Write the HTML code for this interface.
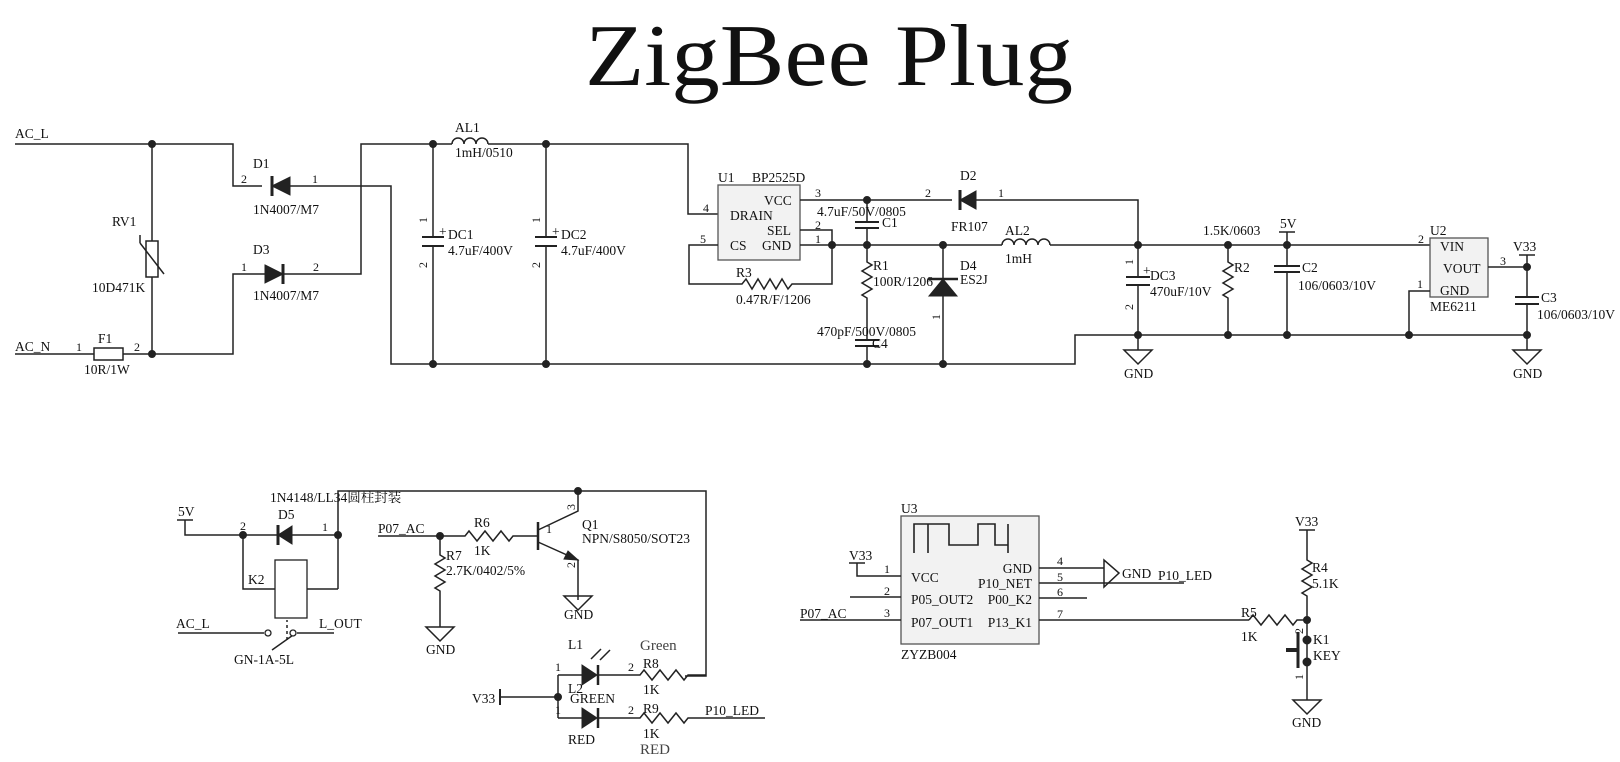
<!DOCTYPE html>
<html><head><meta charset="utf-8"><style>
html,body{margin:0;padding:0;background:#fff;}
svg{display:block;}
text{font-family:"Liberation Serif","Noto Serif CJK SC",serif;fill:#111;font-size:13.5px;}
.s{font-size:12px;}
.w{stroke:#222;stroke-width:1.5;fill:none;}
.f{fill:#222;stroke:#222;}
.box{fill:#f2f2f2;stroke:#555;stroke-width:1.3;}
</style></head><body>
<svg width="1620" height="762" viewBox="0 0 1620 762" xmlns="http://www.w3.org/2000/svg">
<text x="829" y="85" text-anchor="middle" textLength="488" lengthAdjust="spacingAndGlyphs" style="font-size:88px">ZigBee Plug</text>

<!-- ===== TOP LEFT ===== -->
<text x="15" y="138">AC_L</text>
<path class="w" d="M15 144H233V186H262"/>
<path class="w" d="M280 186H391V364H1075V335H1527"/>
<polygon class="f" points="272,186 290,177 290,195"/><path class="w" d="M272 176V196" style="stroke-width:3"/>
<text x="253" y="168">D1</text><text class="s" x="241" y="183">2</text><text class="s" x="312" y="183">1</text>
<text x="253" y="214">1N4007/M7</text>
<path class="w" d="M15 354H233V274H265"/>
<polygon class="f" points="265,265 283,274 265,283"/><path class="w" d="M283 264V284" style="stroke-width:3"/>
<path class="w" d="M283 274H361V144H434"/>
<text x="253" y="254">D3</text><text class="s" x="241" y="271">1</text><text class="s" x="313" y="271">2</text>
<text x="253" y="300">1N4007/M7</text>
<!-- RV1 -->
<path class="w" d="M152 144V354"/>
<rect x="146" y="241" width="12" height="36" fill="#fff" stroke="#222" stroke-width="1.5"/>
<path class="w" d="M140 243V235M140 243L164 274"/>
<circle cx="152" cy="144" r="3.5" class="f"/><circle cx="152" cy="354" r="3.5" class="f"/>
<text x="112" y="226">RV1</text><text x="92" y="292">10D471K</text>
<!-- F1 -->
<text x="15" y="351">AC_N</text><text class="s" x="76" y="351">1</text><text class="s" x="134" y="351">2</text>
<text x="98" y="343">F1</text><text x="84" y="374">10R/1W</text>
<rect x="94" y="348" width="29" height="12" fill="#fff" stroke="#222" stroke-width="1.5"/>
<!-- AL1 -->
<path class="w" d="M434 144H452"/>
<path class="w" d="M452 144a6 6 0 0 1 12 0a6 6 0 0 1 12 0a6 6 0 0 1 12 0"/>
<path class="w" d="M488 144H688V214H718"/>
<text x="455" y="132">AL1</text><text x="455" y="157">1mH/0510</text>
<circle cx="433" cy="144" r="3.5" class="f"/><circle cx="546" cy="144" r="3.5" class="f"/>
<!-- DC1 DC2 -->
<g>
<path class="w" d="M433 144V237M433 246V364"/><path class="w" d="M422 237H444M422 246H444" style="stroke-width:2"/>
<circle cx="433" cy="364" r="3.5" class="f"/>
<text x="439" y="236">+</text><text x="448" y="239">DC1</text><text x="448" y="255">4.7uF/400V</text>
<text class="s" x="427" y="223" transform="rotate(-90 427 223)">1</text>
<text class="s" x="427" y="268" transform="rotate(-90 427 268)">2</text>
</g>
<g>
<path class="w" d="M546 144V237M546 246V364"/><path class="w" d="M535 237H557M535 246H557" style="stroke-width:2"/>
<circle cx="546" cy="364" r="3.5" class="f"/>
<text x="552" y="236">+</text><text x="561" y="239">DC2</text><text x="561" y="255">4.7uF/400V</text>
<text class="s" x="540" y="223" transform="rotate(-90 540 223)">1</text>
<text class="s" x="540" y="268" transform="rotate(-90 540 268)">2</text>
</g>
<!-- U1 -->
<rect x="718" y="185" width="82" height="75" class="box"/>
<text x="718" y="182">U1</text><text x="752" y="182">BP2525D</text>
<text x="764" y="205">VCC</text><text x="730" y="220">DRAIN</text><text x="767" y="235">SEL</text>
<text x="730" y="250">CS</text><text x="762" y="250">GND</text>
<text class="s" x="703" y="212">4</text><text class="s" x="815" y="197">3</text><text class="s" x="815" y="229">2</text>
<text class="s" x="700" y="243">5</text><text class="s" x="815" y="243">1</text>
<path class="w" d="M800 200H952"/>
<path class="w" d="M800 230H832V245"/>
<path class="w" d="M800 245H1002"/>
<path class="w" d="M718 245H689V284H742l4-5 6 10 6-10 6 10 6-10 6 10 6-10 6 10 4-5H832V245"/>
<circle cx="832" cy="245" r="3.5" class="f"/><circle cx="867" cy="200" r="3.5" class="f"/>
<circle cx="867" cy="245" r="3.5" class="f"/><circle cx="943" cy="245" r="3.5" class="f"/>
<text x="736" y="277">R3</text><text x="736" y="304">0.47R/F/1206</text>
<!-- C1 -->
<path class="w" d="M867 200V222M867 228V245"/><path class="w" d="M855 222H879M855 228H879" style="stroke-width:2"/>
<text x="817" y="216">4.7uF/50V/0805</text><text x="882" y="227">C1</text>
<!-- D2 -->
<polygon class="f" points="960,200 976,191 976,209"/><path class="w" d="M960 190V210" style="stroke-width:3"/>
<path class="w" d="M976 200H1138V245"/>
<text x="960" y="180">D2</text><text class="s" x="925" y="197">2</text><text class="s" x="998" y="197">1</text>
<text x="951" y="231">FR107</text>
<!-- R1 C4 -->
<path class="w" d="M867 245V262l5 3-10 6 10 6-10 6 10 6-10 6 5 3V340M867 346V364"/>
<path class="w" d="M855 340H879M855 346H879" style="stroke-width:2"/>
<text x="873" y="270">R1</text><text x="873" y="286">100R/1206</text>
<text x="817" y="336">470pF/500V/0805</text><text x="872" y="348">C4</text>
<circle cx="867" cy="364" r="3.5" class="f"/>
<!-- D4 -->
<path class="w" d="M943 245V364"/>
<polygon class="f" points="943,279 929,296 957,296"/><path class="w" d="M928 279H958" style="stroke-width:2.5"/>
<circle cx="943" cy="364" r="3.5" class="f"/>
<text x="960" y="270">D4</text><text x="960" y="284">ES2J</text>
<text class="s" x="940" y="320" transform="rotate(-90 940 320)">1</text>
<!-- AL2 -->
<path class="w" d="M1002 245a6 6 0 0 1 12 0a6 6 0 0 1 12 0a6 6 0 0 1 12 0a6 6 0 0 1 12 0"/>
<path class="w" d="M1050 245H1430"/>
<text x="1005" y="235">AL2</text><text x="1005" y="263">1mH</text>
<!-- DC3 -->
<path class="w" d="M1138 245V277M1138 285V335"/><path class="w" d="M1126 277H1150M1126 285H1150" style="stroke-width:2"/>
<circle cx="1138" cy="245" r="3.5" class="f"/><circle cx="1138" cy="335" r="3.5" class="f"/>
<text x="1143" y="275">+</text><text x="1150" y="280">DC3</text><text x="1150" y="296">470uF/10V</text>
<text class="s" x="1133" y="265" transform="rotate(-90 1133 265)">1</text>
<text class="s" x="1133" y="310" transform="rotate(-90 1133 310)">2</text>
<path class="w" d="M1138 335V350M1124 350H1152L1138 364Z"/><text x="1124" y="378">GND</text>
<!-- R2 -->
<path class="w" d="M1228 245V262l5 3-10 6 10 6-10 6 10 6-10 6 5 3V335"/>
<circle cx="1228" cy="245" r="3.5" class="f"/><circle cx="1228" cy="335" r="3.5" class="f"/>
<text x="1203" y="235">1.5K/0603</text><text x="1234" y="272">R2</text>
<!-- C2 -->
<path class="w" d="M1287 245V266M1287 272V335"/><path class="w" d="M1274 266H1300M1274 272H1300" style="stroke-width:2"/>
<circle cx="1287" cy="245" r="3.5" class="f"/><circle cx="1287" cy="335" r="3.5" class="f"/>
<path class="w" d="M1287 245V232M1279 232H1295"/><text x="1280" y="228">5V</text>
<text x="1302" y="272">C2</text><text x="1298" y="290">106/0603/10V</text>
<!-- U2 -->
<rect x="1430" y="238" width="58" height="59" class="box"/>
<text x="1430" y="235">U2</text><text x="1440" y="251">VIN</text><text x="1443" y="273">VOUT</text><text x="1440" y="295">GND</text>
<text x="1430" y="311">ME6211</text>
<text class="s" x="1418" y="243">2</text><text class="s" x="1417" y="288">1</text><text class="s" x="1500" y="265">3</text>
<path class="w" d="M1430 291H1409V335"/><circle cx="1409" cy="335" r="3.5" class="f"/>
<path class="w" d="M1488 267H1527"/><circle cx="1527" cy="267" r="3.5" class="f"/>
<path class="w" d="M1527 255V297M1527 304V335"/><path class="w" d="M1515 297H1539M1515 304H1539" style="stroke-width:2"/>
<path class="w" d="M1519 255H1535"/><text x="1513" y="251">V33</text>
<text x="1541" y="302">C3</text><text x="1537" y="319">106/0603/10V</text>
<circle cx="1527" cy="335" r="3.5" class="f"/>
<path class="w" d="M1527 335V350M1513 350H1541L1527 364Z"/><text x="1513" y="378">GND</text>

<!-- ===== BOTTOM LEFT ===== -->
<path class="w" d="M185 520V535H240"/><path class="w" d="M177 520H193"/><text x="178" y="516">5V</text>
<path class="w" d="M240 535H278"/>
<polygon class="f" points="278,535 292,526 292,544"/><path class="w" d="M278 525V545" style="stroke-width:3"/>
<path class="w" d="M292 535H338"/>
<circle cx="243" cy="535" r="3.5" class="f"/><circle cx="338" cy="535" r="3.5" class="f"/>
<text class="s" x="240" y="530">2</text><text class="s" x="322" y="531">1</text><text x="278" y="519">D5</text>
<text x="270" y="502">1N4148/LL34圆柱封装</text>
<path class="w" d="M243 535V589H275M338 589H307"/><path class="w" d="M338 535V589"/>
<rect x="275" y="560" width="32" height="58" fill="#fff" stroke="#222" stroke-width="1.3"/>
<text x="248" y="584">K2</text>
<path class="w" d="M338 535V491H706V676H685"/>
<circle cx="578" cy="491" r="3.5" class="f"/>
<path class="w" d="M178 633H264M297 633H334M272 650L296 633"/>
<circle cx="268" cy="633" r="3" fill="#fff" stroke="#222" stroke-width="1.3"/>
<circle cx="293" cy="633" r="3" fill="#fff" stroke="#222" stroke-width="1.3"/>
<path class="w" d="M287 640V620" style="stroke-dasharray:3 3"/>
<text x="176" y="628">AC_L</text><text x="319" y="628">L_OUT</text><text x="234" y="664">GN-1A-5L</text>
<!-- P07_AC / R6 / Q1 -->
<text x="378" y="533">P07_AC</text>
<path class="w" d="M378 536H465l4-5 8 10 8-10 8 10 8-10 8 10 4-5H538"/>
<circle cx="440" cy="536" r="3.5" class="f"/>
<text x="474" y="527">R6</text><text x="474" y="555">1K</text><text class="s" x="546" y="533">1</text>
<path class="w" d="M538 522V550" style="stroke-width:2.5"/>
<path class="w" d="M538 530L578 511V491M538 542L578 560V600"/>
<polygon class="f" points="578,560 568,551 564,559"/>
<text x="582" y="529">Q1</text><text x="582" y="543">NPN/S8050/SOT23</text>
<text class="s" x="575" y="510" transform="rotate(-90 575 510)">3</text>
<text class="s" x="575" y="568" transform="rotate(-90 575 568)">2</text>
<path class="w" d="M564 596H592L578 610Z"/><text x="564" y="619">GND</text>
<path class="w" d="M440 536V555l5 3-10 6 10 6-10 6 10 6-10 6 5 3V627"/>
<text x="446" y="560">R7</text><text x="446" y="575">2.7K/0402/5%</text>
<path class="w" d="M426 627H454L440 641Z"/><text x="426" y="654">GND</text>
<!-- LEDs -->
<text x="472" y="703">V33</text>
<path class="w" d="M500 689V705" style="stroke-width:2"/><path class="w" d="M500 697H558"/><circle cx="558" cy="697" r="3.5" class="f"/>
<path class="w" d="M558 675V718"/>
<path class="w" d="M558 675H582"/><polygon class="f" points="582,665 597,675 582,685"/><path class="w" d="M598 665V685" style="stroke-width:2.5"/>
<path class="w" d="M598 675H640l4-5 8 10 8-10 8 10 8-10 8 10 4-5H706"/>
<path class="w" d="M591 659L601 649M600 660L610 650"/>
<text x="568" y="649">L1</text><text class="s" x="555" y="671">1</text><text class="s" x="628" y="671">2</text>
<text x="640" y="650" style="font-size:15px;fill:#444">Green</text><text x="643" y="668">R8</text><text x="643" y="694">1K</text>
<text x="568" y="693">L2</text><text x="570" y="703">GREEN</text>
<path class="w" d="M558 718H582"/><polygon class="f" points="582,708 597,718 582,728"/><path class="w" d="M598 708V728" style="stroke-width:2.5"/>
<path class="w" d="M598 718H640l4-5 8 10 8-10 8 10 8-10 8 10 4-5H765"/>
<text class="s" x="555" y="714">1</text><text class="s" x="628" y="714">2</text><text x="643" y="713">R9</text><text x="643" y="738">1K</text>
<text x="705" y="715">P10_LED</text><text x="568" y="744">RED</text>
<text x="640" y="754" style="font-size:15px;fill:#444">RED</text>

<!-- ===== U3 ===== -->
<rect x="901" y="516" width="138" height="128" class="box"/>
<text x="901" y="513">U3</text><text x="901" y="659">ZYZB004</text>
<path class="w" d="M914 553V524H928V553M928 524H949V545H978V524H995V545H1008V524V553" style="stroke-width:1.6"/>
<text x="849" y="560">V33</text><path class="w" d="M849 563H865M857 563V576H901"/>
<text class="s" x="884" y="573">1</text><text x="911" y="582">VCC</text>
<path class="w" d="M850 597H901"/><text class="s" x="884" y="595">2</text><text x="911" y="604">P05_OUT2</text>
<text x="800" y="618">P07_AC</text><path class="w" d="M800 620H901"/><text class="s" x="884" y="617">3</text><text x="911" y="627">P07_OUT1</text>
<text x="1032" y="573" text-anchor="end">GND</text><text x="1032" y="588" text-anchor="end">P10_NET</text><text x="1032" y="604" text-anchor="end">P00_K2</text><text x="1032" y="627" text-anchor="end">P13_K1</text>
<path class="w" d="M1039 568H1104M1039 583H1184M1039 598H1087M1039 620H1249"/>
<text class="s" x="1057" y="565">4</text><text class="s" x="1057" y="581">5</text><text class="s" x="1057" y="596">6</text><text class="s" x="1057" y="618">7</text>
<path class="w" d="M1104 560V587L1119 573Z"/><text x="1122" y="578">GND</text>
<text x="1158" y="580">P10_LED</text>
<!-- K1 / R4 / R5 -->
<text x="1241" y="617">R5</text><text x="1241" y="641">1K</text>
<path class="w" d="M1249 620l4-5 8 10 8-10 8 10 8-10 8 10 4-5H1307"/>
<text x="1295" y="526">V33</text><path class="w" d="M1299 530H1315M1307 530V560l5 3-10 6 10 6-10 6 10 6-10 6 5 3V620"/>
<text x="1312" y="572">R4</text><text x="1312" y="588">5.1K</text>
<circle cx="1307" cy="620" r="3.5" class="f"/>
<path class="w" d="M1307 620V700"/><circle cx="1307" cy="640" r="4" class="f"/><circle cx="1307" cy="662" r="4" class="f"/>
<path class="w" d="M1298 632V668" style="stroke-width:3"/><path class="w" d="M1286 650H1298" style="stroke-width:4"/>
<text x="1313" y="644">K1</text><text x="1313" y="660">KEY</text>
<text class="s" x="1303" y="634" transform="rotate(-90 1303 634)">2</text>
<text class="s" x="1303" y="680" transform="rotate(-90 1303 680)">1</text>
<path class="w" d="M1293 700H1321L1307 714Z"/><text x="1292" y="727">GND</text>
</svg>
</body></html>
